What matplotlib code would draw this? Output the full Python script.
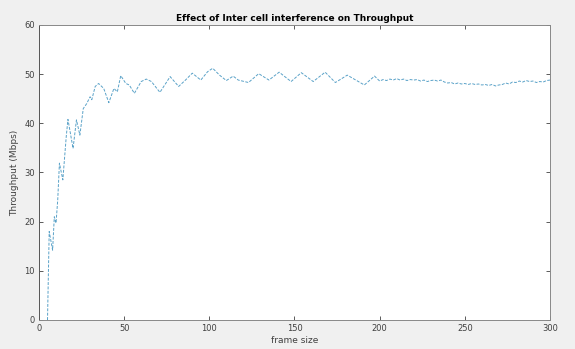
import matplotlib
matplotlib.use("Agg")
import matplotlib.pyplot as plt

# throughput vs frame size
frame = [5, 6, 8, 9, 10, 11, 12, 14, 16, 17, 20, 22, 24, 26, 28, 30, 31, 33, 35,
         38, 41, 44, 46, 48, 51, 53, 56, 60, 63, 66, 71, 77, 82, 86, 90, 95, 99,
         102, 106, 110, 114, 117, 123, 129, 135, 141, 148, 154, 161, 168,
         174, 181, 191, 197,
         200, 202, 204, 206, 208, 210, 212, 214, 216, 218, 220, 222, 224, 226,
         228, 230, 232, 234, 236, 238, 240, 242, 244, 246, 248, 250, 252, 254,
         256, 258, 260, 262, 264, 266, 268, 270, 272, 274, 276, 278, 280, 282,
         284, 286, 288, 290, 292, 294, 296, 298, 300]
throughput = [0, 18.0, 14.2, 21.0, 19.7, 24.4, 31.9, 28.5, 37.3, 40.8, 34.9, 40.7,
              37.6, 43.0, 44.0, 45.4, 44.8, 47.5, 48.1,
              47.1, 44.2, 47.1, 46.4, 49.7, 48.1, 47.8, 46.1, 48.5, 49.0, 48.5,
              46.3, 49.5, 47.5, 48.8, 50.2, 48.8, 50.5,
              51.2, 49.8, 48.7, 49.6, 48.8, 48.3, 50.1, 48.8, 50.4, 48.5,
              50.3, 48.5, 50.4,
              48.3, 49.8, 47.8, 49.6,
              48.6, 48.9, 48.7, 49.0, 48.8, 49.1, 48.8, 49.0, 48.7, 48.9, 48.8,
              48.9, 48.6, 48.8, 48.5, 48.7, 48.8, 48.6, 48.8, 48.4, 48.2, 48.3,
              48.0, 48.2, 48.0, 48.1, 47.9, 48.1, 47.9, 48.0, 47.8, 47.9, 47.7,
              47.9, 47.6, 47.8, 47.9, 48.2, 48.0, 48.4, 48.3, 48.6, 48.4, 48.7,
              48.5, 48.6, 48.3, 48.5, 48.4, 48.7, 48.8]

xticks = [0, 50, 100, 150, 200, 250, 300]
yticks = [0, 10, 20, 30, 40, 50, 60]

fig = plt.figure(figsize=(5.75, 3.49), dpi=100, facecolor="#f0f0f0")
ax = fig.add_axes([0.0678, 0.0831, 0.8887, 0.8453])
ax.plot(frame, throughput, color="#5aa2c8", linestyle="--", dashes=(3, 1.5),
        linewidth=0.7)

ax.set_xlim(0, 300)
ax.set_ylim(0, 60)
ax.set_xticks(xticks)
ax.set_yticks(yticks)
ax.tick_params(direction="in", top=True, right=True, length=3, width=0.6,
               labelsize=6, colors="#404040", pad=3)
for s in ax.spines.values():
    s.set_color("#888888")
    s.set_linewidth(0.7)
ax.spines["left"].set_color("#555555")

ax.set_title("Effect of Inter cell interference on Throughput", fontsize=6.5,
             fontweight="bold", pad=3)
ax.set_xlabel("frame size", fontsize=6.5, color="#404040", labelpad=2)
ax.set_ylabel("Throughput (Mbps)", fontsize=6.5, color="#404040", labelpad=4)

fig.savefig("out.png", dpi=100, facecolor=fig.get_facecolor())
